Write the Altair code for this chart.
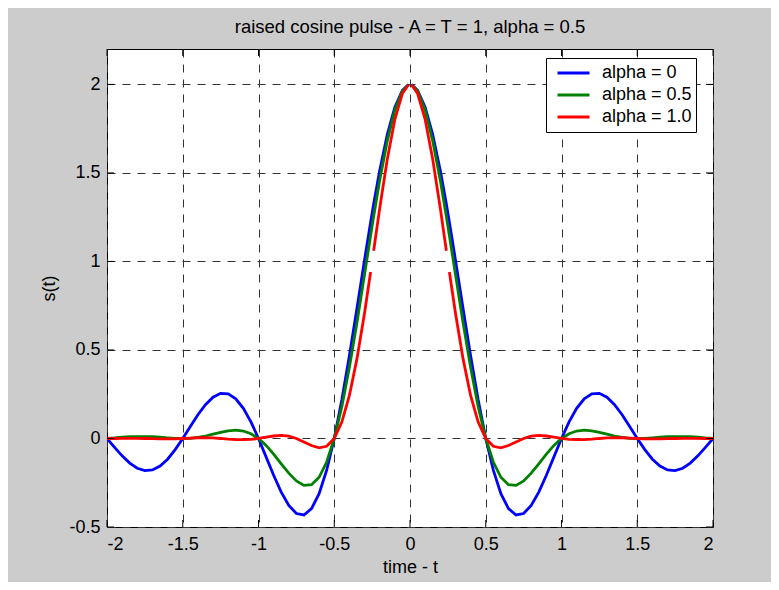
import altair as alt
import pandas as pd

t = [-2.0, -1.95, -1.9, -1.85, -1.8, -1.75, -1.7, -1.65, -1.6, -1.55, -1.5, -1.45, -1.4, -1.35,
     -1.3, -1.25, -1.2, -1.15, -1.1, -1.05, -1.0, -0.95, -0.9, -0.85, -0.8, -0.75, -0.7, -0.65,
     -0.6, -0.55, -0.5, -0.45, -0.4, -0.35, -0.3, -0.26, -0.25, -0.24, -0.2, -0.15, -0.1, -0.05,
     -0.01, 0.0, 0.01, 0.05, 0.1, 0.15, 0.2, 0.24, 0.25, 0.26, 0.3, 0.35, 0.4, 0.45, 0.5, 0.55,
     0.6, 0.65, 0.7, 0.75, 0.8, 0.85, 0.9, 0.95, 1.0, 1.05, 1.1, 1.15, 1.2, 1.25, 1.3, 1.35, 1.4,
     1.45, 1.5, 1.55, 1.6, 1.65, 1.7, 1.75, 1.8, 1.85, 1.9, 1.95, 2.0]

s_alpha0 = [0, -0.050, -0.098, -0.139, -0.168, -0.182, -0.178, -0.156, -0.117, -0.063, 0, 0.068,
            0.134, 0.191, 0.233, 0.255, 0.252, 0.224, 0.170, 0.094, 0, -0.104, -0.208, -0.303,
            -0.378, -0.424, -0.432, -0.396, -0.312, -0.179, 0, 0.219, 0.468, 0.736, 1.009, 1.222,
            1.273, 1.324, 1.514, 1.717, 1.871, 1.967, 1.999,
            None,
            1.999, 1.967, 1.871, 1.717, 1.514, 1.324, 1.273, 1.222, 1.009, 0.736, 0.468, 0.219, 0,
            -0.179, -0.312, -0.396, -0.432, -0.424, -0.378, -0.303, -0.208, -0.104, 0, 0.094,
            0.170, 0.224, 0.252, 0.255, 0.233, 0.191, 0.134, 0.068, 0, -0.063, -0.117, -0.156,
            -0.178, -0.182, -0.168, -0.139, -0.098, -0.050, 0]

s_alpha05 = [0, 0.003, 0.007, 0.010, 0.011, 0.011, 0.010, 0.007, 0.004, 0.001, 0, 0.001, 0.006,
             0.014, 0.024, 0.034, 0.043, 0.047, 0.042, 0.027, 0, -0.039, -0.088, -0.143, -0.196,
             -0.240, -0.265, -0.261, -0.219, -0.133, 0, 0.180, 0.402, 0.655, 0.927, 1.146, 1.200,
             1.254, 1.458, 1.681, 1.854, 1.962, 1.998,
             None,
             1.998, 1.962, 1.854, 1.681, 1.458, 1.254, 1.200, 1.146, 0.927, 0.655, 0.402, 0.180,
             0, -0.133, -0.219, -0.261, -0.265, -0.240, -0.196, -0.143, -0.088, -0.039, 0, 0.027,
             0.042, 0.047, 0.043, 0.034, 0.024, 0.014, 0.006, 0.001, 0, 0.001, 0.004, 0.007, 0.010,
             0.011, 0.011, 0.010, 0.007, 0.003, 0]

s_alpha1 = [0, 0.000, 0.001, 0.001, 0.001, 0, -0.001, -0.002, -0.002, -0.002, 0, 0.002, 0.004,
            0.004, 0.003, 0, -0.004, -0.007, -0.007, -0.005, 0, 0.007, 0.014, 0.017, 0.013, 0,
            -0.020, -0.040, -0.053, -0.044, 0, 0.093, 0.243, 0.451, 0.709, 0.940, None, 1.060,
            1.300, 1.577, 1.802, 1.949, 1.998,
            None,
            1.998, 1.949, 1.802, 1.577, 1.300, 1.060, None, 0.940, 0.709, 0.451, 0.243, 0.093, 0,
            -0.044, -0.053, -0.040, -0.020, 0, 0.013, 0.017, 0.014, 0.007, 0, -0.005, -0.007,
            -0.007, -0.004, 0, 0.003, 0.004, 0.004, 0.002, 0, -0.002, -0.002, -0.002, -0.001, 0,
            0.001, 0.001, 0.001, 0.000, 0]

series_names = ["alpha = 0", "alpha = 0.5", "alpha = 1.0"]
series_colors = ["#0000ff", "#008000", "#ff0000"]
x_ticks = [-2, -1.5, -1, -0.5, 0, 0.5, 1, 1.5, 2]
y_ticks = [-0.5, 0, 0.5, 1, 1.5, 2]

rows = []
for name, vals in zip(series_names, [s_alpha0, s_alpha05, s_alpha1]):
    seg = 0
    for tt, v in zip(t, vals):
        if v is None:
            seg += 1
            continue
        rows.append({"t": tt, "s": v, "series": name, "seg": f"{name}-{seg}"})
df = pd.DataFrame(rows)

W, H = 606, 478
FONT = "Liberation Sans"

xs = alt.Scale(domain=[-2, 2], nice=False, zero=False)
ys = alt.Scale(domain=[-0.5, 2.2], nice=False, zero=False)

lines = alt.Chart(df).mark_line(strokeWidth=2.8, clip=True).encode(
    x=alt.X("t:Q", scale=xs,
            axis=alt.Axis(values=x_ticks, title="time - t", labelExpr="'' + datum.value",
                          grid=True, ticks=False, domain=False, labelPadding=8,
                          titlePadding=5)),
    y=alt.Y("s:Q", scale=ys,
            axis=alt.Axis(values=y_ticks, title="s(t)", labelExpr="'' + datum.value",
                          grid=True, ticks=False, domain=False, labelPadding=7,
                          titlePadding=10)),
    color=alt.Color("series:N", sort=series_names,
                    scale=alt.Scale(domain=series_names, range=series_colors),
                    legend=alt.Legend(title=None, orient="none", legendX=439, legendY=9,
                                      symbolType="stroke", symbolSize=1024,
                                      symbolStrokeWidth=2.8, clipHeight=22, rowPadding=0,
                                      padding=4, symbolOffset=6,
                                      labelOffset=11, fillColor="white", strokeColor="black",
                                      labelFont=FONT, labelFontSize=18, labelColor="black",
                                      labelExpr="datum.label + '\u00a0\u00a0\u00a0\u00a0'")),
    detail="seg:N",
    order=alt.Order("t:Q"),
)

xt_df = pd.DataFrame({"t": x_ticks})
yt_df = pd.DataFrame({"s": y_ticks})
tick_style = dict(color="black", strokeWidth=1)
xb = alt.Chart(xt_df).mark_rule(**tick_style).encode(
    x=alt.X("t:Q", scale=xs), y=alt.value(H), y2=alt.value(H - 7))
xtop = alt.Chart(xt_df).mark_rule(**tick_style).encode(
    x=alt.X("t:Q", scale=xs), y=alt.value(0), y2=alt.value(7))
yl = alt.Chart(yt_df).mark_rule(**tick_style).encode(
    y=alt.Y("s:Q", scale=ys), x=alt.value(0), x2=alt.value(7))
yr = alt.Chart(yt_df).mark_rule(**tick_style).encode(
    y=alt.Y("s:Q", scale=ys), x=alt.value(W), x2=alt.value(W - 7))

chart = alt.layer(lines, xb, xtop, yl, yr).properties(
    width=W, height=H,
    title=alt.Title("raised cosine pulse - A = T = 1, alpha = 0.5", fontSize=18.5,
                    fontWeight="normal", font=FONT, color="black", offset=12,
                    anchor="middle", frame="group"),
    background="#cccccc",
    autosize=alt.AutoSizeParams(type="none"),
    padding={"left": 99, "top": 41, "right": 58, "bottom": 55},
).configure_view(
    fill="white", stroke="black", strokeWidth=1,
).configure_axis(
    labelFont=FONT, titleFont=FONT, labelFontSize=18, titleFontSize=18,
    labelColor="black", titleColor="black", titleFontWeight="normal",
    gridColor="#333333", gridDash=[8, 7], gridWidth=1, gridOpacity=1,
)

chart.save("out.html", embed_options={"renderer": "svg", "actions": False})
